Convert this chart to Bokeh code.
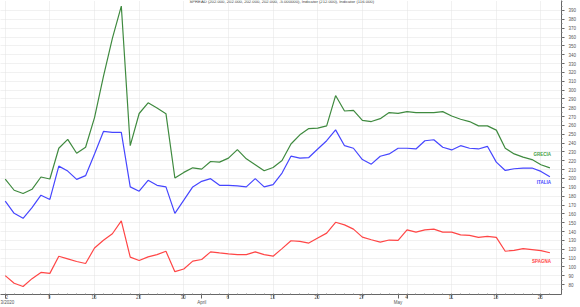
import pandas as pd
from bokeh.plotting import figure
from bokeh.models import LinearAxis, FixedTicker, Range1d, Label
from bokeh.embed import file_html
from bokeh.resources import INLINE

# ---- data ----
dates = pd.bdate_range("2020-03-02", periods=62)

greece = [199.4, 186.7, 183.0, 187.8, 201.7, 199.4, 234.2, 244.2, 228.6, 235.3,
          268.9, 315.5, 358.4, 395.0, 237.1, 273.5, 285.6, 279.6, 273.3, 200.6,
          206.9, 212.1, 210.6, 219.2, 218.5, 223.0, 232.6, 222.2, 215.5, 208.8,
          212.5, 220.3, 239.0, 249.4, 256.5, 256.9, 259.5, 293.8, 276.3, 277.1,
          265.8, 264.4, 267.7, 274.5, 273.7, 275.6, 274.5, 274.5, 274.5, 275.6,
          270.7, 267.0, 264.4, 259.5, 259.5, 254.7, 234.2, 227.8, 224.1, 221.4,
          215.5, 212.0]

italy = [174.4, 160.6, 155.0, 167.0, 181.1, 176.3, 214.0, 208.4, 199.0, 203.2,
         227.8, 253.2, 252.1, 252.1, 190.5, 185.6, 198.0, 192.3, 190.5, 160.6,
         175.5, 190.5, 196.8, 199.8, 192.3, 192.3, 191.6, 190.5, 199.8, 190.5,
         193.1, 206.2, 225.2, 223.0, 223.7, 233.4, 242.7, 255.0, 237.1, 234.2,
         221.4, 216.2, 225.2, 227.8, 234.2, 234.2, 233.4, 242.7, 243.8, 235.3,
         232.3, 237.1, 234.2, 233.4, 236.4, 218.5, 209.1, 211.0, 211.8, 211.8,
         208.0, 202.0]

spain = [90.1, 81.5, 77.8, 86.7, 93.8, 92.7, 112.1, 109.1, 106.1, 103.9,
         121.4, 130.1, 137.5, 152.0, 111.0, 107.2, 111.4, 113.9, 117.7, 94.6,
         97.6, 106.5, 108.4, 117.0, 115.8, 114.7, 113.9, 113.9, 117.0, 113.9,
         112.1, 120.7, 129.6, 128.9, 127.0, 132.6, 138.2, 150.5, 147.5, 142.7,
         133.7, 130.7, 128.1, 130.4, 130.1, 141.9, 139.4, 141.9, 142.7, 139.4,
         139.4, 136.3, 135.6, 133.4, 134.5, 133.4, 117.7, 118.8, 120.7, 119.6,
         118.5, 116.0]

series_names = ["GRECIA", "ITALIA", "SPAGNA"]
month_labels = ["3/2020", "April", "May"]
y_ticks = list(range(80, 400, 10))
y_minor = list(range(75, 405, 5))
title_text = ("SPREAD (202.000, 202.000, 202.000, 202.000, -5.000000), "
              "Indicator (212.000), Indicator (116.000)")

# ---- derived positions (trading-day index axis) ----
x = list(range(len(dates)))
mondays = [i for i, d in enumerate(dates) if d.weekday() == 0]
month_starts = [i for i in x if i == 0 or dates[i].month != dates[i - 1].month]
tick_labels = {}
for i in mondays:
    tick_labels[i] = " " + str(dates[i].day)
for i, m in zip(month_starts, month_labels):
    tick_labels[i] = tick_labels.get(i, "") + "\n" + m
major_ticks = sorted(set(mondays) | set(month_starts))

FONT = "Liberation Sans"
GREEN, BLUE, RED = "#3f8a3f", "#4646ff", "#ff4646"

p = figure(width=580, height=307, output_backend="svg", toolbar_location=None,
           x_range=Range1d(-0.53, 62.3), y_range=Range1d(68.8, 401.3),
           y_axis_location=None,
           min_border_left=0, min_border_top=0, min_border_right=19, min_border_bottom=10)
p.outline_line_color = None
p.background_fill_color = "white"
p.border_fill_color = "white"

# grids
p.xgrid.ticker = FixedTicker(ticks=mondays)
p.ygrid.ticker = FixedTicker(ticks=y_ticks)
for g in (p.xgrid, p.ygrid):
    g.grid_line_color = "#e2e2e2"
    g.grid_line_dash = "1 1"
    g.grid_line_width = 1

# bottom axis
xa = p.xaxis[0]
xa.ticker = FixedTicker(ticks=major_ticks, minor_ticks=x)
xa.major_label_overrides = tick_labels
xa.major_label_text_align = "left"
xa.major_label_text_baseline = "top"
xa.major_label_text_font = FONT
xa.major_label_text_font_size = "4.5px"
xa.major_label_text_line_height = 1.0
xa.major_label_text_color = "#555555"
xa.major_label_standoff = -4
xa.major_tick_out = 4
xa.major_tick_in = 0
xa.minor_tick_in = 1
xa.minor_tick_out = 0
xa.axis_line_color = "#666666"
xa.major_tick_line_color = "#666666"
xa.minor_tick_line_color = "#888888"

# right axis
ya = LinearAxis(ticker=FixedTicker(ticks=y_ticks, minor_ticks=y_minor))
ya.major_label_text_font = FONT
ya.major_label_text_font_size = "4.5px"
ya.major_label_text_color = "#555555"
ya.major_label_standoff = 4
ya.major_tick_out = 3
ya.major_tick_in = 0
ya.minor_tick_out = 1
ya.minor_tick_in = 0
ya.axis_line_color = "#666666"
ya.major_tick_line_color = "#666666"
ya.minor_tick_line_color = "#888888"
p.add_layout(ya, "right")

# lines
p.line(x, greece, line_color=GREEN, line_width=1.2)
p.line(x, italy, line_color=BLUE, line_width=1.2)
p.line(x, spain, line_color=RED, line_width=1.2)

# series labels at the end of each line
for name, vals, col, off in zip(series_names, [greece, italy, spain],
                                ["#44a044", BLUE, RED], [13, -6, -9]):
    p.add_layout(Label(x=x[-1], y=vals[-1], y_offset=off, text=name,
                       text_align="right", text_baseline="middle",
                       text_font=FONT, text_font_size="4.5px",
                       text_font_style="bold", text_color=col, x_offset=1))

# header text
p.add_layout(Label(x=189, y=293, x_units="screen", y_units="screen",
                   text=title_text, text_align="left", text_baseline="middle",
                   text_font=FONT, text_font_size="4.2px", text_color="#444444"))

open("out.html", "w").write(file_html(p, INLINE))
